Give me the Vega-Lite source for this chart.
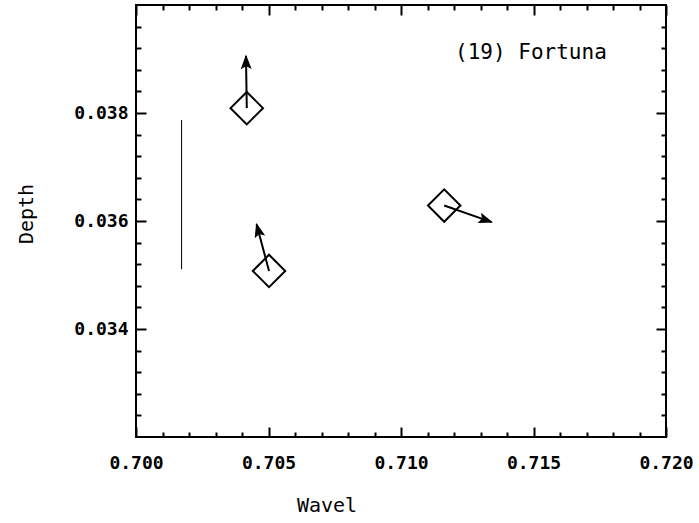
{
  "$schema": "https://vega.github.io/schema/vega-lite/v6.json",
  "width": 530,
  "height": 432,
  "autosize": {"type": "none"},
  "padding": {"left": 136, "top": 5, "right": 33, "bottom": 86},
  "background": "white",
  "config": {
    "view": {"stroke": "black", "strokeWidth": 2},
    "axis": {"grid": false, "domain": false, "labelFlush": false, "labelOverlap": false, "tickColor": "black", "tickWidth": 2, "labelColor": "black", "titleColor": "black", "labelFont": "DejaVu Sans Mono", "titleFont": "DejaVu Sans Mono", "titleFontWeight": "normal", "labelFontWeight": "bold"}
  },
  "datasets": {
    "points": [
      {"wave": 0.70418, "depth": 0.03809, "wave_tip": 0.70415, "depth_tip": 0.039056, "dir": -1},
      {"wave": 0.70502, "depth": 0.035075, "wave_tip": 0.70455, "depth_tip": 0.03594, "dir": -15},
      {"wave": 0.71163, "depth": 0.036286, "wave_tip": 0.71342, "depth_tip": 0.03598, "dir": 109}
    ],
    "bar": [
      {"wave": 0.70172, "depth_top": 0.03787, "depth_bottom": 0.035106}
    ],
    "label": [
      {"wave": 0.71204, "depth": 0.039106, "text": "(19) Fortuna"}
    ]
  },
  "layer": [
    {
      "data": {"name": "points"},
      "mark": {"type": "point", "shape": "diamond", "filled": false, "stroke": "black", "strokeWidth": 2, "size": 1050, "opacity": 1},
      "encoding": {
        "x": {"field": "wave", "type": "quantitative", "scale": {"domain": [0.7, 0.72], "nice": false, "zero": false},
          "axis": {"orient": "bottom", "values": [0.7, 0.705, 0.71, 0.715, 0.72], "format": ".3f", "ticks": false, "labelPadding": 17, "labelFontSize": 18,
            "title": "Wavel", "titleFontSize": 20, "titleX": 190.5, "titleY": 68, "titleBaseline": "middle", "titleAlign": "center"}},
        "y": {"field": "depth", "type": "quantitative", "scale": {"domain": [0.032, 0.04], "nice": false, "zero": false},
          "axis": {"orient": "left", "values": [0.034, 0.036, 0.038], "format": ".3f", "ticks": false, "labelPadding": 8, "labelFontSize": 18,
            "title": "Depth", "titleFontSize": 20, "titleAngle": -90, "titleX": -110, "titleY": 208.5, "titleBaseline": "middle", "titleAlign": "center"}}
      }
    },
    {
      "data": {"name": "points"},
      "mark": {"type": "rule", "stroke": "black", "strokeWidth": 2},
      "encoding": {
        "x": {"field": "wave", "type": "quantitative", "scale": {"domain": [0.7, 0.72], "nice": false, "zero": false},
          "axis": {"orient": "bottom", "values": [0.7, 0.705, 0.71, 0.715, 0.72], "labels": false, "tickSize": -10, "title": null}},
        "y": {"field": "depth", "type": "quantitative", "scale": {"domain": [0.032, 0.04], "nice": false, "zero": false},
          "axis": {"orient": "left", "values": [0.034, 0.036, 0.038], "labels": false, "tickSize": -10, "title": null}},
        "x2": {"field": "wave_tip"},
        "y2": {"field": "depth_tip"}
      }
    },
    {
      "data": {"name": "points"},
      "mark": {"type": "point", "shape": "M0,0L0.375,1L0,0.8L-0.375,1Z", "filled": true, "fill": "black", "stroke": "black", "strokeWidth": 1, "size": 576, "opacity": 1},
      "encoding": {
        "x": {"field": "wave_tip", "type": "quantitative", "scale": {"domain": [0.7, 0.72], "nice": false, "zero": false},
          "axis": {"orient": "bottom", "values": [0.701, 0.702, 0.703, 0.704, 0.706, 0.707, 0.708, 0.709, 0.711, 0.712, 0.713, 0.714, 0.716, 0.717, 0.718, 0.719], "labels": false, "tickSize": -5, "title": null}},
        "y": {"field": "depth_tip", "type": "quantitative", "scale": {"domain": [0.032, 0.04], "nice": false, "zero": false},
          "axis": {"orient": "left", "values": [0.0324, 0.0328, 0.0332, 0.0336, 0.0344, 0.0348, 0.0352, 0.0356, 0.0364, 0.0368, 0.0372, 0.0376, 0.0384, 0.0388, 0.0392, 0.0396], "labels": false, "tickSize": -5, "title": null}},
        "angle": {"field": "dir", "type": "quantitative", "scale": null}
      }
    },
    {
      "data": {"name": "bar"},
      "mark": {"type": "rule", "stroke": "black", "strokeWidth": 1},
      "encoding": {
        "x": {"field": "wave", "type": "quantitative", "scale": {"domain": [0.7, 0.72], "nice": false, "zero": false},
          "axis": {"orient": "top", "values": [0.7, 0.705, 0.71, 0.715, 0.72], "labels": false, "tickSize": -10, "title": null}},
        "y": {"field": "depth_top", "type": "quantitative", "scale": {"domain": [0.032, 0.04], "nice": false, "zero": false},
          "axis": {"orient": "right", "values": [0.034, 0.036, 0.038], "labels": false, "tickSize": -10, "title": null}},
        "y2": {"field": "depth_bottom"}
      }
    },
    {
      "data": {"name": "label"},
      "mark": {"type": "text", "align": "left", "baseline": "middle", "font": "DejaVu Sans Mono", "fontSize": 21, "color": "black"},
      "encoding": {
        "x": {"field": "wave", "type": "quantitative", "scale": {"domain": [0.7, 0.72], "nice": false, "zero": false},
          "axis": {"orient": "top", "values": [0.701, 0.702, 0.703, 0.704, 0.706, 0.707, 0.708, 0.709, 0.711, 0.712, 0.713, 0.714, 0.716, 0.717, 0.718, 0.719], "labels": false, "tickSize": -5, "title": null}},
        "y": {"field": "depth", "type": "quantitative", "scale": {"domain": [0.032, 0.04], "nice": false, "zero": false},
          "axis": {"orient": "right", "values": [0.0324, 0.0328, 0.0332, 0.0336, 0.0344, 0.0348, 0.0352, 0.0356, 0.0364, 0.0368, 0.0372, 0.0376, 0.0384, 0.0388, 0.0392, 0.0396], "labels": false, "tickSize": -5, "title": null}},
        "text": {"field": "text", "type": "nominal"}
      }
    }
  ],
  "resolve": {"axis": {"x": "independent", "y": "independent"}}
}
